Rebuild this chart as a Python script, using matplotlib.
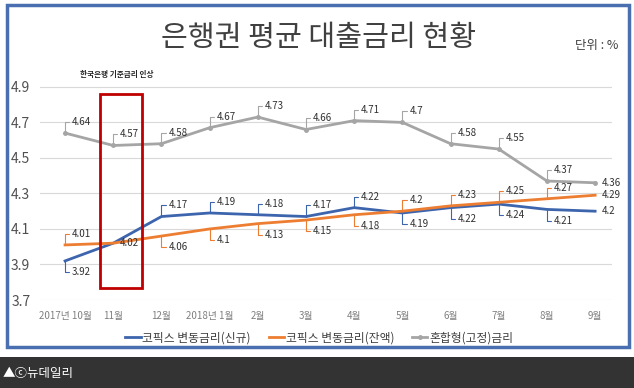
import matplotlib
matplotlib.use('Agg')
from matplotlib import pyplot as plt
from matplotlib.patches import Rectangle

plt.rcParams['font.family'] = ['Noto Sans CJK KR', 'DejaVu Sans']

months = ['2017년 10월', '11월', '12월', '2018년 1월', '2월', '3월',
          '4월', '5월', '6월', '7월', '8월', '9월']
cofix_new = [3.92, 4.02, 4.17, 4.19, 4.18, 4.17, 4.22, 4.19, 4.22, 4.24, 4.21, 4.2]
cofix_balance = [4.01, 4.02, 4.06, 4.1, 4.13, 4.15, 4.18, 4.2, 4.23, 4.25, 4.27, 4.29]
fixed_mixed = [4.64, 4.57, 4.58, 4.67, 4.73, 4.66, 4.71, 4.7, 4.58, 4.55, 4.37, 4.36]
series_names = ['코픽스 변동금리(신규)', '코픽스 변동금리(잔액)', '혼합형(고정)금리']

# where each value label sits relative to its point
new_pos = ['below', 'right', 'above', 'above', 'above', 'above',
           'above', 'below', 'below', 'below', 'below', 'right']
balance_pos = ['above', None, 'below', 'below', 'below', 'below',
               'below', 'above', 'above', 'above', 'above', 'right']
mixed_pos = ['above'] * 11 + ['right']

W, H = 634, 388


def px_box(x0, y0, x1, y1):
    # pixel box (top-left origin) -> figure fraction rect
    return [x0 / W, 1 - y1 / H, (x1 - x0) / W, (y1 - y0) / H]


def label_points(ax, values, positions, color):
    for i, (v, pos) in enumerate(zip(values, positions)):
        if pos is None:
            continue
        txt = f'{v:g}'
        if pos == 'right':
            ax.annotate(txt, xy=(i, v), xytext=(5, 0), textcoords='offset points',
                        ha='left', va='center', fontsize=7, color='#303030')
            continue
        dy = 8 if pos == 'above' else -8
        ax.annotate(txt, xy=(i, v), xytext=(5, dy), textcoords='offset points',
                    ha='left', va='center', fontsize=7, color='#303030',
                    arrowprops=dict(arrowstyle='-', color=color, lw=0.8,
                                    shrinkA=0, shrinkB=0, relpos=(0, 0.5),
                                    connectionstyle='angle,angleA=0,angleB=90,rad=0'))


def main():
    fig = plt.figure(figsize=(W / 100, H / 100), dpi=100)

    # outer blue frame and dark footer
    fig.patches.append(Rectangle((7 / W, 1 - 347 / H), 622 / W, 342 / H,
                                 transform=fig.transFigure, fill=False,
                                 edgecolor='#4a6fb0', lw=2.5))
    fig.patches.append(Rectangle((0, 0), 1, 31 / H, transform=fig.transFigure,
                                 facecolor='#333333', edgecolor='none'))
    fig.text(3 / W, 1 - 373 / H, '▲ⓒ뉴데일리', color='white', fontsize=9,
             va='center', ha='left')

    fig.text(319 / W, 1 - 38 / H, '은행권 평균 대출금리 현황', fontsize=21,
             color='#404040', ha='center', va='center')
    fig.text(618 / W, 1 - 45 / H, '단위 : %', fontsize=9, color='#404040',
             ha='right', va='center')

    ax = fig.add_axes(px_box(40, 78, 612, 300))
    x = range(len(months))
    ax.plot(x, cofix_new, color='#3d65ad', lw=2, label=series_names[0], zorder=3)
    ax.plot(x, cofix_balance, color='#ed7d31', lw=2, label=series_names[1], zorder=3)
    ax.plot(x, fixed_mixed, color='#a5a5a5', lw=2, marker='o', markersize=2.5,
            label=series_names[2], zorder=3)

    label_points(ax, cofix_new, new_pos, '#3d65ad')
    label_points(ax, cofix_balance, balance_pos, '#ed7d31')
    label_points(ax, fixed_mixed, mixed_pos, '#a5a5a5')

    # highlight: Bank of Korea rate hike in November
    ax.add_patch(Rectangle((0.73, 3.77), 0.87, 1.09, fill=False,
                           edgecolor='#c00000', lw=2, zorder=4))
    ax.text(0.3, 4.97, '한국은행 기준금리 인상', fontsize=5.5, fontweight='bold',
            color='#262626', ha='left', va='center', clip_on=False)

    ax.set_xlim(-0.52, 11.35)
    ax.set_ylim(3.7, 4.95)
    ax.set_yticks([3.7, 3.9, 4.1, 4.3, 4.5, 4.7, 4.9])
    ax.set_yticklabels(['3.7', '3.9', '4.1', '4.3', '4.5', '4.7', '4.9'],
                       fontsize=10, color='#505050')
    ax.set_xticks(list(x))
    ax.set_xticklabels(months, fontsize=7, color='#7f7f7f')
    ax.tick_params(length=0, pad=8)
    ax.tick_params(axis='y', pad=7)
    ax.grid(axis='y', color='#d9d9d9', lw=0.8)
    ax.set_axisbelow(True)
    for s in ax.spines.values():
        s.set_visible(False)

    ax.legend(loc='center', bbox_to_anchor=(0.488, -0.17), ncol=3, frameon=False,
              fontsize=8.5, handlelength=1.3, handletextpad=0.15, columnspacing=1.5,
              labelcolor='#404040')

    fig.savefig('out.png', dpi=100)


if __name__ == '__main__':
    main()
